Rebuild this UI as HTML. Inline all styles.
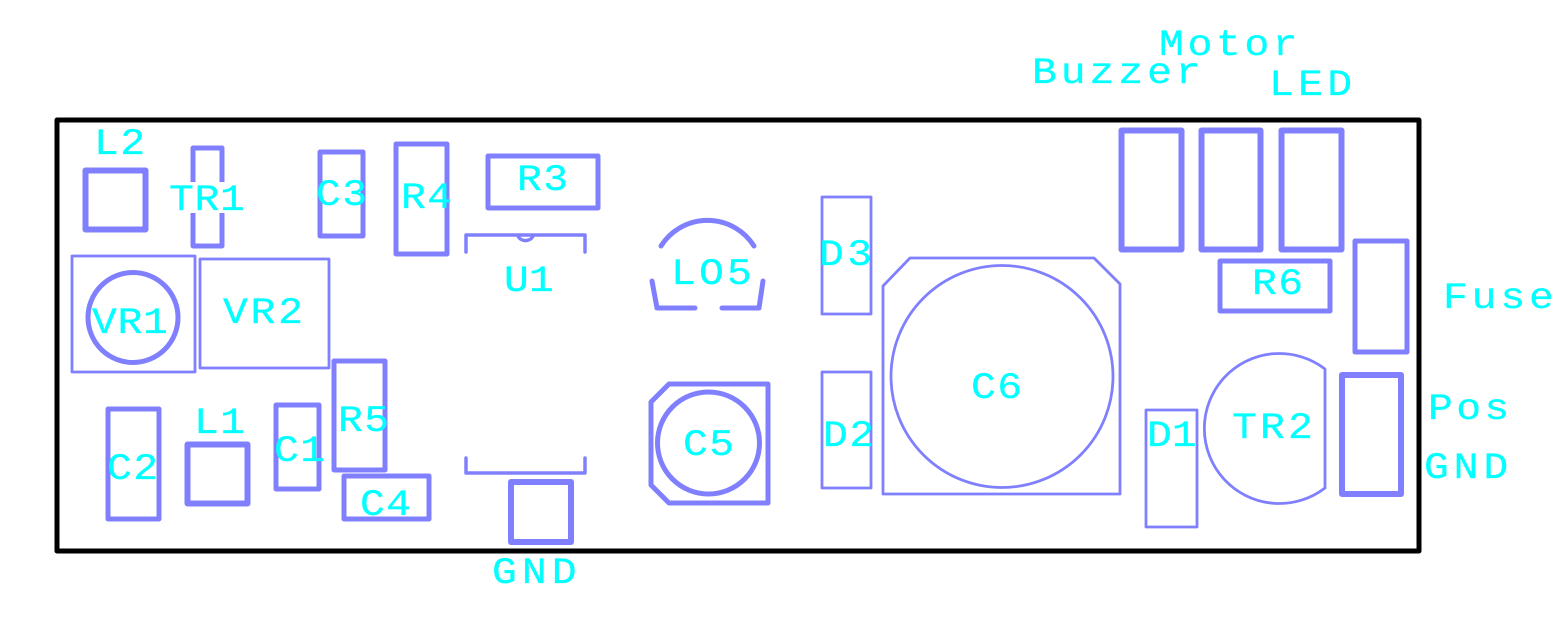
<!DOCTYPE html>
<html>
<head>
<meta charset="utf-8">
<style>
html,body{margin:0;padding:0;background:#fff;width:1568px;height:636px;overflow:hidden}
svg{display:block}
.s{fill:none;stroke:#8080ff;stroke-linejoin:round;stroke-linecap:round}
text{font-family:"Liberation Mono",monospace;font-size:37px;fill:#00ffff;stroke:#00ffff;stroke-width:.25px;letter-spacing:1.200px}
</style>
</head>
<body>
<svg width="1568" height="636" viewBox="0 0 1568 636" xmlns="http://www.w3.org/2000/svg">
<rect x="57" y="120" width="1362" height="431" fill="none" stroke="#000" stroke-width="5" stroke-linejoin="round"/>

<g class="s" stroke-width="6">
<rect x="85.500" y="170.500" width="60" height="59"/>
<rect x="187.500" y="444.500" width="60" height="59"/>
<rect x="511" y="482" width="60" height="60"/>
<rect x="1121.500" y="130.500" width="60" height="119"/>
<rect x="1201.500" y="130.500" width="59" height="119"/>
<rect x="1281.500" y="130.500" width="60" height="119"/>
<rect x="1342" y="375" width="59" height="119"/>
</g>

<g class="s" stroke-width="5">
<path d="M193 182V148H222V182M193 213V246H222V213" stroke-linecap="butt"/>
<rect x="320" y="152" width="43" height="84"/>
<rect x="396" y="144" width="51" height="110"/>
<circle cx="133" cy="317.500" r="45"/>
<rect x="334" y="361" width="51" height="109"/>
<rect x="488" y="156" width="110" height="52"/>
<path d="M661 246A55 55 0 0 1 754 246"/>
<path d="M652 281L657 308H695M763 281L759 308H722"/>
<path d="M651 402L669 384H768V503H669L651 485Z"/>
<circle cx="708.500" cy="443" r="51"/>
<rect x="1220" y="261" width="110" height="50"/>
<rect x="1355" y="241" width="52" height="111"/>
<rect x="108" y="409" width="51" height="110"/>
<rect x="276" y="405" width="43" height="84"/>
<rect x="344" y="476" width="85" height="43"/>
</g>

<g class="s" stroke-width="3.500">
<path d="M466 252V235H585V252"/>
<path d="M518 236A8 7 0 0 0 533 236"/>
<path d="M466 458V473H585V458"/>
</g>

<g class="s" stroke-width="2.800">
<rect x="72" y="256" width="123" height="116"/>
<rect x="200" y="259" width="129" height="109"/>
<rect x="822" y="197" width="49" height="117"/>
<rect x="822" y="372" width="49" height="116"/>
<rect x="1146" y="410" width="51" height="117"/>
<path d="M883 286L910 258H1094L1120 284V494H883Z"/>
<circle cx="1002" cy="376.500" r="111"/>
<path d="M1325 369V488A75 75 0 1 1 1325 369Z"/>
</g>

<text transform="translate(94 154) scale(1.12 1)">L2</text>
<text transform="translate(169 210) scale(1.12 1)" style="letter-spacing:.6px">TR1</text>
<text transform="translate(316 205) scale(1.12 1)">C3</text>
<text transform="translate(401 208) scale(1.12 1)">R4</text>
<text transform="translate(92 333) scale(1.12 1)" style="letter-spacing:.6px">VR1</text>
<text transform="translate(223 323) scale(1.12 1)" style="letter-spacing:2.400px">VR2</text>
<text transform="translate(517 190) scale(1.12 1)">R3</text>
<text transform="translate(504 291) scale(1.12 1)" style="letter-spacing:0">U1</text>
<text transform="translate(671 284) scale(1.12 1)" style="letter-spacing:2.800px">LO5</text>
<text transform="translate(683 455) scale(1.12 1)">C5</text>
<text transform="translate(492 583) scale(1.12 1)" style="letter-spacing:4.500px">GND</text>
<text transform="translate(1159 55) scale(1.12 1)" style="letter-spacing:3.200px">Motor</text>
<text transform="translate(1032 83) scale(1.12 1)" style="letter-spacing:3.500px">Buzzer</text>
<text transform="translate(1269 95) scale(1.12 1)" style="letter-spacing:3.800px">LED</text>
<text transform="translate(1252 294) scale(1.12 1)">R6</text>
<text transform="translate(1443 308) scale(1.12 1)" style="letter-spacing:3.400px">Fuse</text>
<text transform="translate(1428 419) scale(1.12 1)" style="letter-spacing:3px">Pos</text>
<text transform="translate(1424 478) scale(1.12 1)" style="letter-spacing:4.300px">GND</text>
<text transform="translate(1232 438) scale(1.12 1)" style="letter-spacing:2.800px">TR2</text>
<text transform="translate(1147 446) scale(1.12 1)" style="letter-spacing:0">D1</text>
<text transform="translate(819 265) scale(1.12 1)" style="letter-spacing:3px">D3</text>
<text transform="translate(823 446) scale(1.12 1)">D2</text>
<text transform="translate(971 398) scale(1.12 1)">C6</text>
<text transform="translate(338 431) scale(1.12 1)">R5</text>
<text transform="translate(107 479) scale(1.12 1)">C2</text>
<text transform="translate(194 433) scale(1.12 1)">L1</text>
<text transform="translate(274 461) scale(1.12 1)">C1</text>
<text transform="translate(360 515) scale(1.12 1)">C4</text>
</svg>
</body>
</html>
